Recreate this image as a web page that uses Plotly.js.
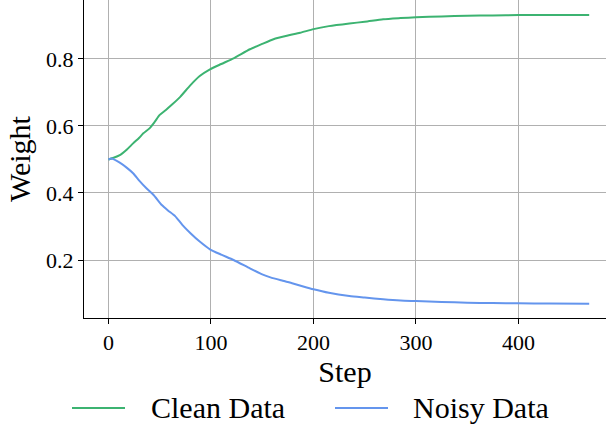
<!DOCTYPE html>
<html>
<head>
<meta charset="utf-8">
<script src="https://cdn.plot.ly/plotly-3.0.1.min.js"></script>
<style>html,body{margin:0;padding:0;background:#fff;}#chart{width:606px;height:427px;}</style>
</head>
<body>
<div id="chart"></div>
<script>
const cleanSteps = [0,5,11,18,24,30,34,40,45,50,56,62,70,80,89,99,110,122,138,150,161,175,187,200,215,235,250,268,285,300,325,350,375,400,430,469];
const cleanWeight = [0.500,0.505,0.513,0.530,0.548,0.565,0.578,0.593,0.612,0.633,0.648,0.664,0.687,0.722,0.749,0.769,0.785,0.802,0.829,0.845,0.859,0.870,0.878,0.889,0.898,0.906,0.911,0.9185,0.922,0.9245,0.927,0.929,0.930,0.931,0.931,0.931];
const noisySteps = [0,3,11,18,24,30,37,44,52,58,65,72,80,89,99,110,122,138,150,158,170,180,190,200,215,235,250,268,285,300,325,350,375,400,430,469];
const noisyWeight = [0.500,0.503,0.4905,0.475,0.459,0.437,0.414,0.394,0.364,0.348,0.331,0.305,0.280,0.255,0.232,0.216,0.200,0.175,0.157,0.148,0.138,0.130,0.121,0.1125,0.102,0.0925,0.088,0.0827,0.079,0.0776,0.075,0.0725,0.0715,0.0707,0.070,0.0695];
const xTicks = [0,100,200,300,400];
const yTicks = [0.2,0.4,0.6,0.8];
const yTickText = ['0.2','0.4','0.6','0.8'];
const seriesNames = ['Clean Data', 'Noisy Data'];
const seriesColors = ['#3cb371', '#6495ed'];

const serif = 'Liberation Serif';
const traces = [
  {x: cleanSteps, y: cleanWeight, name: seriesNames[0], mode: 'lines',
   line: {color: seriesColors[0], width: 2, shape: 'spline', smoothing: 0.6}},
  {x: noisySteps, y: noisyWeight, name: seriesNames[1], mode: 'lines',
   line: {color: seriesColors[1], width: 2, shape: 'spline', smoothing: 0.6}}
];

// manual legend placed below the plot (paper coords relative to plot area 84..606 x 0..318)
const L = 84, W = 522, H = 318;
const px = v => (v - L) / W;
const py = v => (H - v) / H;
const legendLineX = [[72, 125], [335, 388]];
const legendTextX = [149, 411];
const legendY = 408;
const shapes = seriesNames.map((n, i) => ({
  type: 'line', xref: 'paper', yref: 'paper',
  x0: px(legendLineX[i][0]), x1: px(legendLineX[i][1]), y0: py(legendY), y1: py(legendY),
  line: {color: seriesColors[i], width: 2}
}));
const annotations = seriesNames.map((n, i) => ({
  text: n, xref: 'paper', yref: 'paper', x: px(legendTextX[i]), y: py(legendY - 1),
  xanchor: 'left', yanchor: 'middle', showarrow: false,
  font: {family: serif, size: 30, color: '#000'}
}));

const layout = {
  width: 606, height: 427,
  margin: {l: 84, r: 0, t: 0, b: 109},
  paper_bgcolor: '#fff', plot_bgcolor: '#fff',
  font: {family: serif, color: '#000', size: 22},
  showlegend: false,
  xaxis: {
    range: [-23.9, 485.4], tickvals: xTicks, ticktext: xTicks.map(String),
    showgrid: true, gridcolor: '#b0b0b0', gridwidth: 1,
    zeroline: false, showline: true, linecolor: '#000', linewidth: 1, mirror: true,
    ticks: 'outside', ticklen: 5, tickcolor: '#000', tickwidth: 1,
    tickfont: {family: serif, size: 22, color: '#000'},
    title: {text: 'Step', font: {family: serif, size: 30, color: '#000'}, standoff: 0}
  },
  yaxis: {
    range: [0.0269, 0.976], tickvals: yTicks, ticktext: yTickText,
    showgrid: true, gridcolor: '#b0b0b0', gridwidth: 1,
    zeroline: false, showline: true, linecolor: '#000', linewidth: 1,
    ticks: 'outside', ticklen: 5, tickcolor: '#000', tickwidth: 1,
    tickfont: {family: serif, size: 22, color: '#000'},
    title: {text: 'Weight', font: {family: serif, size: 30, color: '#000'}, standoff: 6}
  },
  shapes: shapes,
  annotations: annotations
};
Plotly.newPlot('chart', traces, layout, {staticPlot: true, displayModeBar: false});
</script>
</body>
</html>
